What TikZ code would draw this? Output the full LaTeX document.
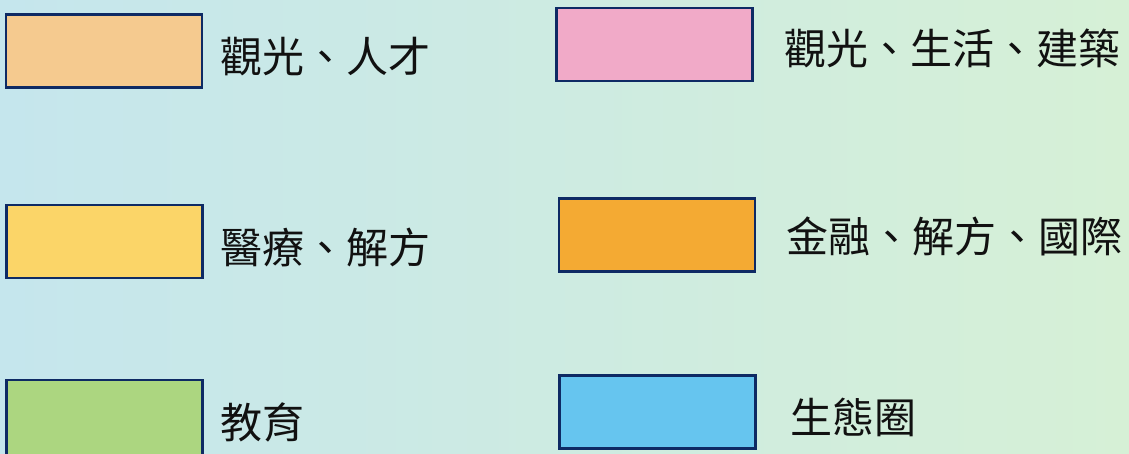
\documentclass[tikz,border=0pt]{standalone}
\usepackage{fontspec}
\newfontfamily\cjk{Noto Sans CJK TC}
\definecolor{bgleft}{RGB}{197,230,237}
\definecolor{bgright}{RGB}{214,240,214}
\definecolor{edgenavy}{RGB}{14,42,100}
\definecolor{cpeach}{RGB}{245,202,143}
\definecolor{cpink}{RGB}{241,170,200}
\definecolor{cyellow}{RGB}{251,213,104}
\definecolor{corange}{RGB}{244,170,51}
\definecolor{cgreen}{RGB}{172,214,128}
\definecolor{cblue}{RGB}{102,197,239}
\definecolor{txt}{RGB}{17,17,17}
\begin{document}
\begin{tikzpicture}[x=1pt,y=-1pt,
  legendbox/.style={draw=edgenavy, line width=2.6pt, rectangle, inner sep=0pt,
    minimum width=196pt, minimum height=73pt},
  legendtext/.style={anchor=west, inner sep=0pt, text=txt,
    font=\cjk\fontsize{42}{50}\selectfont}]
  \shade[left color=bgleft, right color=bgright] (0,0) rectangle (1129,453);
  \useasboundingbox (0,0) rectangle (1129,453);
  % left column
  \node[legendbox, fill=cpeach] (b1) at (104,51) {};
  \node[legendtext] (t1) at (220,57) {觀光、人才};
  \node[legendbox, fill=cyellow] (b3) at (104.5,241.5) {};
  \node[legendtext] (t3) at (220,247) {醫療、解方};
  \node[legendbox, fill=cgreen, minimum height=80pt] (b5) at (104.5,420) {};
  \node[legendtext] (t5) at (220,422) {教育};
  % right column
  \node[legendbox, fill=cpink] (b2) at (654.5,44.5) {};
  \node[legendtext] (t2) at (784,48) {觀光、生活、建築};
  \node[legendbox, fill=corange] (b4) at (657,235) {};
  \node[legendtext] (t4) at (786,236) {金融、解方、國際};
  \node[legendbox, fill=cblue] (b6) at (657.5,412) {};
  \node[legendtext] (t6) at (790,417) {生態圈};
\end{tikzpicture}
\end{document}
